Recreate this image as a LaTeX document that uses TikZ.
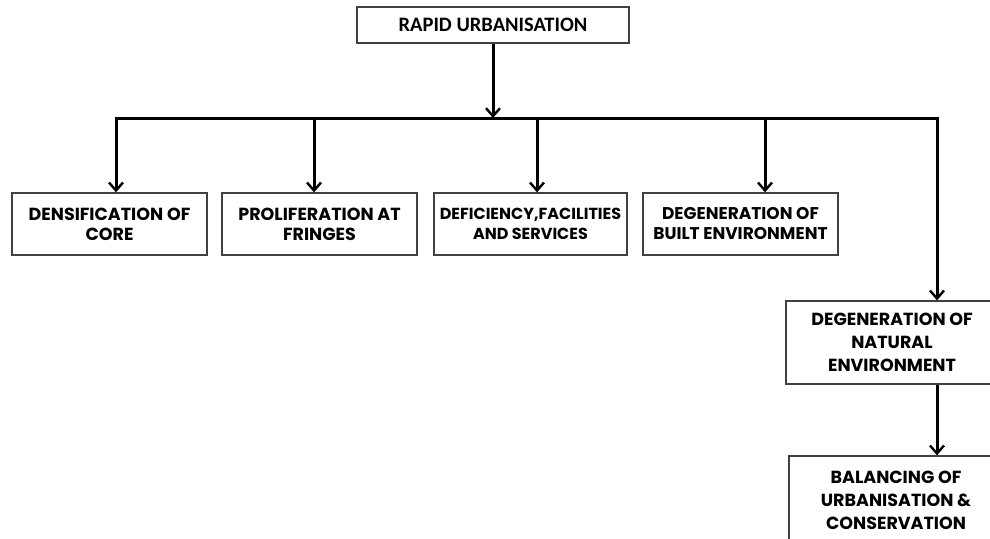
\documentclass[tikz,border=0pt]{standalone}
\usepackage{fontspec}
\setmainfont{Poppins}
\newfontfamily\topfont{Carlito}
\usetikzlibrary{arrows.meta}
\begin{document}
\begin{tikzpicture}[x=1pt,y=-1pt,
  box/.style={draw=black!75,line width=1.3pt,fill=white,align=center,inner sep=0pt,
    font=\fontsize{17.5}{20}\selectfont\bfseries},
  conn/.style={line width=3pt,-{Straight Barb[length=8pt,width=14pt,line width=2.4pt]}},
  bar/.style={line width=3pt}]
\clip (0,0) rectangle (990,538);
\fill[white] (0,0) rectangle (990,538);
\node[box,minimum width=272pt,minimum height=36pt,font=\topfont\fontsize{20.5}{22}\selectfont\bfseries] (top) at (493,25) {RAPID URBANISATION};
\node[box,minimum width=195pt,minimum height=62pt] (b1) at (109.5,224) {DENSIFICATION OF\\CORE};
\node[box,minimum width=195pt,minimum height=62pt] (b2) at (319.5,224) {PROLIFERATION AT\\FRINGES};
\node[box,minimum width=193pt,minimum height=62pt,font=\fontsize{16}{20}\selectfont\bfseries] (b3) at (530.5,224) {DEFICIENCY,FACILITIES\\AND SERVICES};
\node[box,minimum width=195pt,minimum height=62pt,font=\fontsize{17}{20}\selectfont\bfseries] (b4) at (740.5,224) {DEGENERATION OF\\BUILT ENVIRONMENT};
\node[box,minimum width=212pt,minimum height=83pt,font=\fontsize{17.5}{23}\selectfont\bfseries] (b5) at (892,342.5) {DEGENERATION OF\\NATURAL\\ENVIRONMENT};
\node[box,minimum width=214pt,minimum height=88pt,font=\fontsize{17.5}{23}\selectfont\bfseries] (b6) at (896,500) {BALANCING OF\\URBANISATION \&\\CONSERVATION};
\coordinate (j) at (493,118);
\coordinate (l) at (116,118);
\coordinate (r) at (937,118);
\coordinate (d2) at (314,118);
\coordinate (d3) at (537,118);
\coordinate (d4) at (765,118);
\draw[conn] (top.south -| j) -- (j);
\draw[bar] ([xshift=-1.5pt]l) -- ([xshift=1.5pt]r);
\draw[conn] (l) -- (l |- b1.north);
\draw[conn] (d2) -- (d2 |- b2.north);
\draw[conn] (d3) -- (d3 |- b3.north);
\draw[conn] (d4) -- (d4 |- b4.north);
\draw[conn] (r) -- (r |- b5.north);
\draw[conn] (r |- b5.south) -- (r |- b6.north);
\end{tikzpicture}
\end{document}
